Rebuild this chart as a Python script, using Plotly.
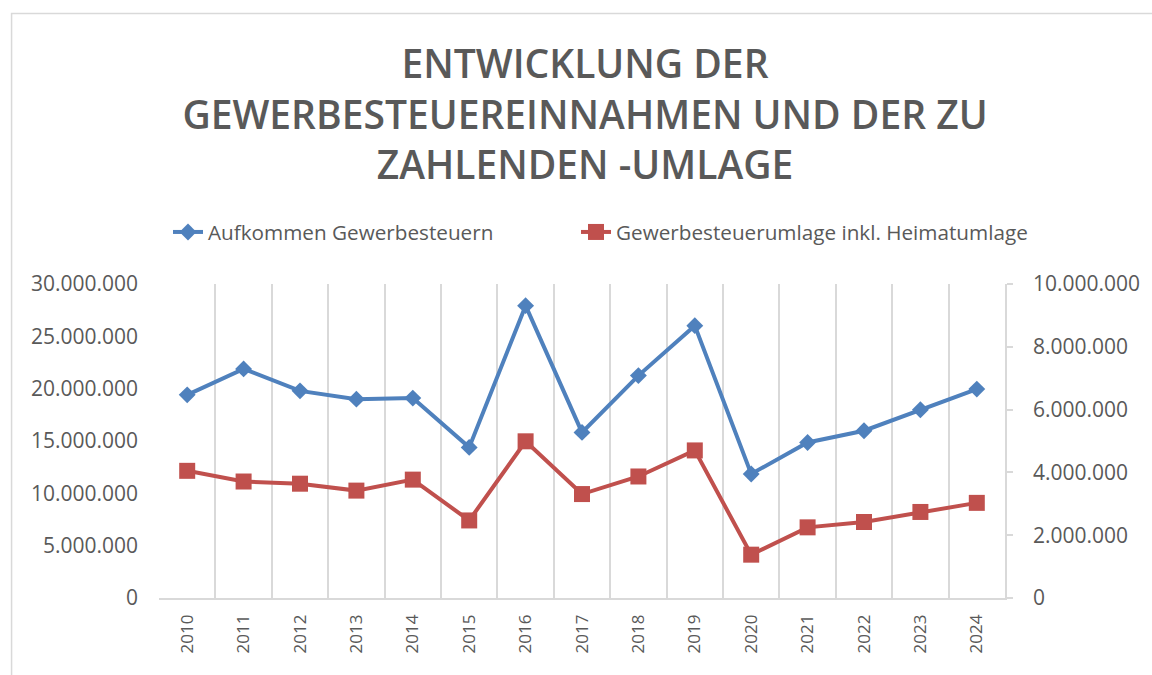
import plotly.graph_objects as go

years = [str(y) for y in range(2010, 2025)]
aufkommen = [19.41e6, 21.89e6, 19.79e6, 19.00e6, 19.10e6, 14.39e6, 27.93e6, 15.82e6,
             21.25e6, 26.02e6, 11.85e6, 14.86e6, 15.98e6, 17.98e6, 19.96e6]
umlage = [4.05e6, 3.71e6, 3.64e6, 3.42e6, 3.77e6, 2.47e6, 4.99e6, 3.31e6,
          3.87e6, 4.70e6, 1.38e6, 2.25e6, 2.42e6, 2.74e6, 3.03e6]

title_text = "ENTWICKLUNG DER<br>GEWERBESTEUEREINNAHMEN UND DER ZU<br>ZAHLENDEN -UMLAGE"
name1 = "Aufkommen Gewerbesteuern"
name2 = "Gewerbesteuerumlage inkl. Heimatumlage"

BLUE = "#4f81bd"
RED = "#c0504d"
GREY = "#595959"
GRID = "#d9d9d9"
FONT = "Open Sans"

fig = go.Figure()
fig.add_trace(go.Scatter(
    x=years, y=aufkommen, name=name1, mode="lines+markers",
    line=dict(color=BLUE, width=4),
    marker=dict(symbol="diamond", size=13, color=BLUE),
    yaxis="y", legend="legend"))
fig.add_trace(go.Scatter(
    x=years, y=umlage, name=name2, mode="lines+markers",
    line=dict(color=RED, width=4),
    marker=dict(symbol="square", size=16, color=RED),
    yaxis="y2", legend="legend2"))

legend_common = dict(orientation="h", xref="container", yref="container",
                     xanchor="left", yanchor="middle", y=1 - 232 / 675,
                     font=dict(family=FONT, size=20.7, color=GREY),
                     bgcolor="rgba(0,0,0,0)", borderwidth=0)

fig.update_layout(
    width=1152, height=675,
    paper_bgcolor="white", plot_bgcolor="white",
    separators=",.",
    margin=dict(l=159, r=138, t=284, b=76.5),
    title=dict(text=title_text, x=585 / 1152, xanchor="center", xref="container",
               yref="container", y=1 - 78 / 675, yanchor="top",
               font=dict(family=FONT, size=39, color=GREY, weight=600)),
    font=dict(family=FONT, color=GREY),
    showlegend=True,
    legend=dict(legend_common, x=168 / 1152),
    legend2=dict(legend_common, x=576 / 1152),
    xaxis=dict(type="category", range=[-0.5, 14.5], tickson="boundaries", showgrid=True,
               gridcolor=GRID, gridwidth=1.5, showline=True, linecolor=GRID, linewidth=1.5,
               ticks="", tickangle=-90, ticklabelstandoff=8,
               tickfont=dict(family=FONT, size=17, color=GREY), zeroline=False),
    yaxis=dict(range=[0, 30e6], dtick=5e6, tickformat=",d", showgrid=False,
               zeroline=False, showline=False, ticks="", ticklabelstandoff=20,
               tickfont=dict(family=FONT, size=21, color=GREY)),
    yaxis2=dict(range=[0, 10e6], dtick=2e6, tickformat=",d", overlaying="y", side="right",
                showgrid=False, zeroline=False, showline=True, linecolor=GRID, linewidth=1.5,
                ticks="outside", ticklen=6, tickcolor=GRID, tickwidth=1.5,
                ticklabelstandoff=16,
                tickfont=dict(family=FONT, size=21, color=GREY)),
)

# chart frame
fig.add_shape(type="rect", xref="paper", yref="paper",
              x0=(10 - 159) / 855, x1=(1165 - 159) / 855,
              y0=(598.5 - 690) / 314.5, y1=(598.5 - 13) / 314.5,
              line=dict(color=GRID, width=1.5), fillcolor="rgba(0,0,0,0)", layer="below")

fig.write_html("out.html", config={"displayModeBar": False},
               post_script="document.body.style.margin='0';")
